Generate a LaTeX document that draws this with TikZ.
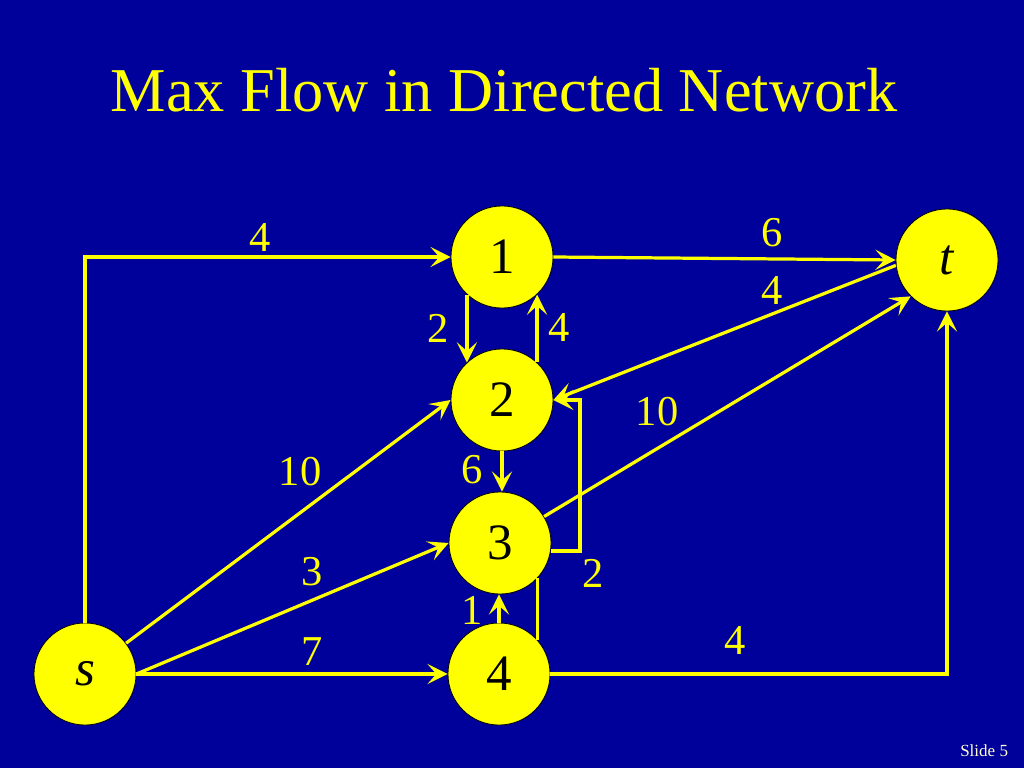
\documentclass[tikz,border=0pt]{standalone}
\usepackage{fontspec}
\setmainfont{Liberation Serif}
\usetikzlibrary{arrows.meta}
\definecolor{slideblue}{RGB}{0,0,155}
\definecolor{nodeyellow}{RGB}{255,255,0}
\definecolor{footyellow}{RGB}{255,255,210}
\tikzset{
  vertex/.style={circle, draw=black, line width=0.02cm, fill=nodeyellow,
    minimum size=2.53cm, inner sep=0pt, font=\fontsize{36}{40}\selectfont},
  flow/.style={draw=nodeyellow, line width=0.08cm,
    -{Stealth[length=0.5cm,width=0.5cm,inset=0.22cm]}},
  plainflow/.style={draw=nodeyellow, line width=0.08cm},
  capacity/.style={text=nodeyellow, inner sep=0pt, font=\fontsize{30}{34}\selectfont},
}
\begin{document}
\begin{tikzpicture}[x=0.0248cm, y=-0.0248cm]
                        \useasboundingbox (0,0) rectangle (1024,768);
                        \fill [slideblue] (0,0) rectangle (1024,768);%
                        
                        % Writing the title
                        \node [text=nodeyellow, anchor=base, font=\fontsize{44}{50}\selectfont] (title) at (504,112) {Max Flow in Directed Network};%
                        
                        % Marking vertex s by circle
                        \node [vertex] (s) at (85,674) {\textit{s}};%
                        
                        % Marking vertices 1, 2, 3, 4 by circle
                        \node [vertex] (n1) at (502,257) {1};%
                        \node [vertex] (n2) at (502,400) {2};%
                        \node [vertex] (n3) at (500,543) {3};%
                        \node [vertex] (n4) at (499,674) {4};%
                        
                        % Marking vertex t by circle
                        \node [vertex] (t) at (947,260) {\textit{t}};%
                        
                        % Drawing arc s 1
                        \draw [flow] (s.north) |- (n1.west);%
                        \node [capacity] (c1) at (260,238) {4};%
                        
                        % Drawing arc 1 t
                        \draw [flow] (n1.east) -- (t.west);%
                        \node [capacity] (c2) at (772,233) {6};%
                        
                        % Drawing arc t 2
                        \draw [flow] (t.186) -- (n2.east);%
                        \node [capacity] (c3) at (772,291) {4};%
                        
                        % Drawing arcs 1 2 and 2 1
                        \draw [flow] (n1.227) -- (n2.133);%
                        \node [capacity] (c4) at (438,328) {2};%
                        \draw [flow] (n2.47) -- (n1.313);%
                        \node [capacity] (c5) at (559,328) {4};%
                        
                        % Drawing arc 3 t
                        \draw [flow] (n3) -- (t.225);%
                        \node [capacity] (c6) at (657,412) {10};%
                        
                        % Drawing arc s 2
                        \draw [flow] (s) -- (n2.west);%
                        \node [capacity] (c7) at (300,472) {10};%
                        
                        % Drawing arc 2 3
                        \draw [flow] (n2.south) -- (n2.south |- n3.north);%
                        \node [capacity] (c8) at (472,470) {6};%
                        
                        % Drawing arc s 3
                        \draw [flow] (s.east) -- (n3.west);%
                        \node [capacity] (c9) at (312,572) {3};%
                        
                        % Drawing arc 3 2 round the right side
                        \coordinate (bend32) at (580,400);%
                        \draw [flow] (n3.-9) -| (bend32) -- (n2.east);%
                        \node [capacity] (c10) at (593,573) {2};%
                        
                        % Drawing arc 4 3
                        \draw [flow] (n4.north) -- (n4.north |- n3.south);%
                        \node [capacity] (c11) at (472,610) {1};%
                        \draw [plainflow] (n4.42) -- (n4.42 |- n3.-43);%
                        
                        % Drawing arc s 4
                        \draw [flow] (s.east) -- (n4.west);%
                        \node [capacity] (c12) at (312,652) {7};%
                        
                        % Drawing arc 4 t
                        \draw [flow] (n4.east) -| (t.south);%
                        \node [capacity] (c13) at (735,640) {4};%
                        
                        % Writing the slide number
                        \node [text=footyellow, anchor=base east, font=\fontsize{12}{14}\selectfont] (slideno) at (1013,756) {Slide 5};%
\end{tikzpicture}
\end{document}
